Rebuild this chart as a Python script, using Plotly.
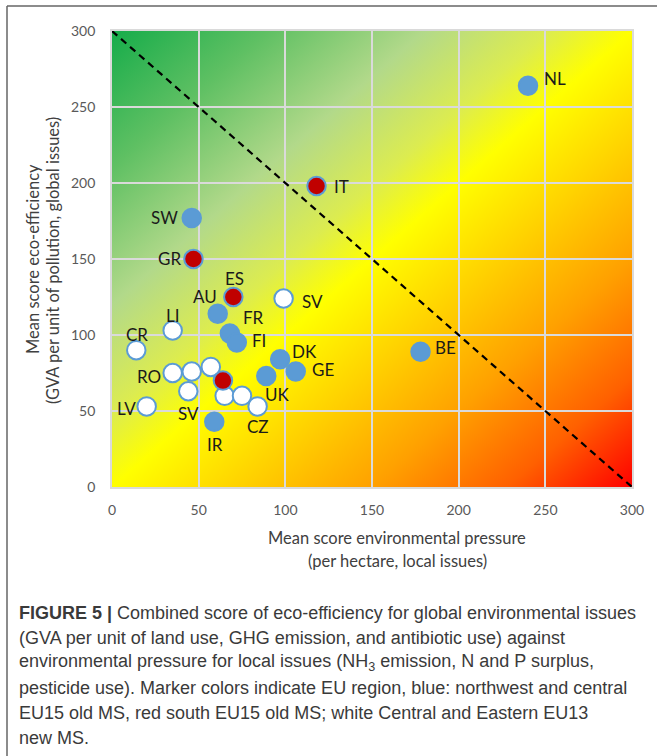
import base64
import plotly.graph_objects as go

# ---- data: mean scores per member state -------------------------------
# northwest and central EU15 (blue)
blue_x = [240, 46, 61, 68, 72, 97, 89, 106, 59, 178]
blue_y = [264, 177, 114, 101, 95, 84, 73, 76, 43, 89]
blue_lbl = ["NL", "SW", "AU", "FR", "FI", "DK", "UK", "GE", "IR", "BE"]

# south EU15 (red)
red_x = [118, 47, 70, 64]
red_y = [198, 150, 125, 70]
red_lbl = ["IT", "GR", "ES", ""]

# central and eastern EU13 (white)
white_x = [99, 35, 14, 35, 46, 57, 44, 65, 75, 84, 20]
white_y = [124, 103, 90, 75, 76, 79, 63, 60, 60, 53, 53]
white_lbl = ["SV", "LI", "CR", "RO", "", "", "SV", "", "", "CZ", "LV"]

# reference diagonal
diag_x = [0, 300]
diag_y = [300, 0]

tick_vals = [0, 50, 100, 150, 200, 250, 300]

# ---- label placement (anchor, x shift px, y shift px) ------------------
blue_off = [("left", 14, 7), ("right", -12, 0), ("right", 1, 17), ("left", 11, 16),
            ("left", 13, 2), ("left", 10, 8), ("center", 11, -18), ("left", 14, 2),
            ("center", 1, -23), ("left", 12, 4)]
red_off = [("left", 15, 0), ("right", -10, 1), ("center", 1, 19), None]
white_off = [("left", 16, -3), ("center", 0, 15), ("center", 1, 16), ("right", -10, -3),
             None, None, ("center", 0, -22), None, None, ("center", 0, -20),
             ("right", -9, -2)]

W, H = 657, 756
L, R, T, B = 112, 632, 31, 487


def px(x):
    return (x - L) / (R - L)


def py(y):
    return (B - y) / (B - T)


# diagonal green -> yellow -> red background
stops = [(0.0, "#16ac4a"), (0.15, "#5fc063"), (0.30, "#b2d98a"), (0.42, "#dcec50"),
         (0.50, "#ffff00"), (0.62, "#ffd200"), (0.75, "#ffa000"), (0.88, "#ff6000"),
         (1.0, "#ff0000")]
stop_xml = "".join(f'<stop offset="{o}" stop-color="{c}"/>' for o, c in stops)
svg = ('<svg xmlns="http://www.w3.org/2000/svg" width="300" height="300" '
       'viewBox="0 0 300 300" preserveAspectRatio="none"><defs>'
       f'<linearGradient id="g" x1="0" y1="0" x2="1" y2="1">{stop_xml}</linearGradient>'
       '</defs><rect width="300" height="300" fill="url(#g)"/></svg>')
bg_src = "data:image/svg+xml;base64," + base64.b64encode(svg.encode()).decode()

BLUE = "#5b9bd5"
fig = go.Figure()

fig.add_trace(go.Scatter(x=diag_x, y=diag_y, mode="lines",
                         line=dict(color="black", width=2.2, dash="7px,5px"),
                         hoverinfo="skip"))

groups = [
    (blue_x, blue_y, blue_lbl, blue_off, BLUE),
    (white_x, white_y, white_lbl, white_off, "white"),
    (red_x, red_y, red_lbl, red_off, "#c00000"),
]
annotations = []
for gx, gy, glbl, goff, fill in groups:
    fig.add_trace(go.Scatter(
        x=gx, y=gy, mode="markers", hovertext=glbl, hoverinfo="x+y+text",
        marker=dict(size=18.5, color=fill, line=dict(color=BLUE, width=2)),
    ))
    for x, y, t, o in zip(gx, gy, glbl, goff):
        if not t:
            continue
        anchor, dx, dy = o
        annotations.append(dict(
            x=x, y=y, xref="x", yref="y", text=t, showarrow=False,
            xanchor=anchor, yanchor="middle", xshift=dx, yshift=dy,
            font=dict(family="Lato", size=17, color="#1a1a1a")))

# axis titles
title_font = dict(family="Lato", size=16.5, color="#404040")
annotations += [
    dict(x=px(397), y=py(538), xref="paper", yref="paper", showarrow=False,
         text="Mean score environmental pressure", font=title_font,
         xanchor="center", yanchor="middle"),
    dict(x=px(397), y=py(561), xref="paper", yref="paper", showarrow=False,
         text="(per hectare, local issues)", font=title_font,
         xanchor="center", yanchor="middle"),
    dict(x=px(33), y=py(259), xref="paper", yref="paper", showarrow=False,
         text="Mean score eco-efficiency", font=title_font, textangle=-90,
         xanchor="center", yanchor="middle"),
    dict(x=px(53), y=py(261), xref="paper", yref="paper", showarrow=False,
         text="(GVA per unit of pollution, global issues)", font=title_font,
         textangle=-90, xanchor="center", yanchor="middle"),
]

# figure caption
caption = [
    "<b>FIGURE 5 |</b> Combined score of eco-efficiency for global environmental issues",
    "(GVA per unit of land use, GHG emission, and antibiotic use) against",
    "environmental pressure for local issues (NH<sub>3</sub> emission, N and P surplus,",
    "pesticide use). Marker colors indicate EU region, blue: northwest and central",
    "EU15 old MS, red south EU15 old MS; white Central and Eastern EU13",
    "new MS.",
]
for i, line in enumerate(caption):
    annotations.append(dict(
        x=px(17), y=py(613 + 25 * i), xref="paper", yref="paper", showarrow=False,
        text=line, xanchor="left", yanchor="middle", align="left",
        font=dict(family="Liberation Sans", size=18, color="#3a3a3a")))

axis_common = dict(
    range=[0, 300], tickvals=tick_vals, showgrid=True, gridcolor="#dadada",
    gridwidth=1.8, showline=True, linecolor="#dadada", linewidth=1.8, mirror=True,
    zeroline=False, ticks="", fixedrange=True,
    tickfont=dict(family="Lato", size=14, color="#595959"),
)

fig.update_layout(
    width=W, height=H, autosize=False,
    margin=dict(l=L, r=W - R, t=T, b=H - B),
    paper_bgcolor="white", plot_bgcolor="white", showlegend=False,
    xaxis=dict(**axis_common, ticklabelstandoff=9),
    yaxis=dict(**axis_common, ticklabelstandoff=12),
    images=[dict(source=bg_src, xref="x", yref="y", x=0, y=300, sizex=300, sizey=300,
                 xanchor="left", yanchor="top", sizing="stretch", layer="below")],
    annotations=annotations,
    shapes=[
        dict(type="line", xref="paper", yref="paper", x0=px(7), x1=px(660),
             y0=py(6), y1=py(6), line=dict(color="#666666", width=1.5)),
        dict(type="line", xref="paper", yref="paper", x0=px(7), x1=px(7),
             y0=py(6), y1=py(760), line=dict(color="#666666", width=1.5)),
    ],
)

fig.write_html("out.html")
